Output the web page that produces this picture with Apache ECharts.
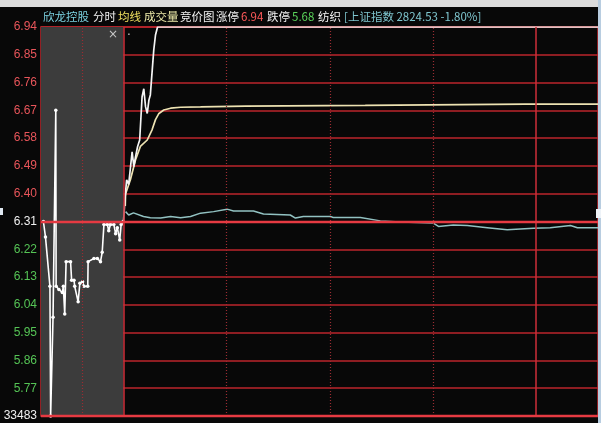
<!DOCTYPE html>
<html><head><meta charset="utf-8">
<script src="https://cdn.jsdelivr.net/npm/echarts@6/dist/echarts.min.js"></script>
<style>html,body{margin:0;padding:0;background:#080808;overflow:hidden}#c{width:601px;height:423px}</style>
</head><body><div id="c"></div>
<script>
// ---- data ----
const yTicks = [5.68, 5.77, 5.86, 5.95, 6.04, 6.13, 6.22, 6.31, 6.40, 6.49, 6.58, 6.67, 6.76, 6.85, 6.94];
const prevClose = 6.31;
const bottomLabel = '33483';
// time unit: minutes from 9:30 (negative = call-auction panel)
const auctionT = [-23.3,-22.7,-21.4,-21.2,-20.5,-19.7,-19.6,-18.8,-17.8,-17.5,-17.1,-16.7,-15.4,-15.1,-14.4,-14.2,-13.2,-12.7,-11.9,-11.5,-10.4,-10.3,-8.6,-7.6,-6.7,-6.2,-5.7,-4.7,-4.3,-3.8,-2.8,-2.3,-1.8,-1.1,-0.7,-0.1];
const auctionP = [6.31,6.26,6.10,5.68,6.00,6.67,6.10,6.09,6.08,6.10,6.01,6.18,6.18,6.12,6.12,6.10,6.05,6.11,6.115,6.10,6.10,6.18,6.19,6.19,6.18,6.21,6.30,6.30,6.28,6.30,6.30,6.27,6.29,6.25,6.30,6.31];
const priceT = [0,0.4,0.9,1.5,2.5,3.0,3.5,4.1,4.7,5.4,5.9,6.4,6.9,7.4,7.8,8.8,9.3,9.9,138];
const priceP = [6.31,6.38,6.445,6.43,6.536,6.488,6.52,6.553,6.574,6.714,6.74,6.682,6.66,6.704,6.72,6.866,6.914,6.94,6.94];
const avgT = [0.5,0.6,2.0,3.5,4.9,6.9,8.3,9.3,10.3,11.7,13.7,16.6,22.4,35.5,70.3,116.9,138];
const avgP = [6.36,6.40,6.445,6.51,6.553,6.574,6.607,6.64,6.66,6.671,6.677,6.68,6.681,6.684,6.686,6.69,6.69];
// Shanghai index overlay, expressed on the price scale
const idxT = [0.6,1.5,2.9,5.8,7.8,10.8,13.7,16.6,19.5,22.4,26.2,30.1,32,37.8,40.7,48.5,50,52.3,60.2,61,68.9,74.7,80.5,90.1,91.6,95.9,100,105.8,111.6,119.2,124.1,130,132,138];
const idxP = [6.342,6.331,6.338,6.326,6.322,6.321,6.326,6.322,6.326,6.337,6.342,6.350,6.344,6.344,6.334,6.331,6.321,6.326,6.326,6.323,6.323,6.312,6.308,6.305,6.294,6.299,6.297,6.290,6.283,6.288,6.290,6.297,6.290,6.290];
const timeSolid = [0, 120];
const timeDotted = [-12, 30, 60, 90];
const xMin = -24, xMax = 138;

const zip = (a, b) => a.map((v, i) => [v, b[i]]);

const chart = echarts.init(document.getElementById('c'), null, {renderer: 'canvas'});
const titleFont = '"Noto Sans CJK SC", sans-serif';
const titleItems = [
  {t: '欣龙控股', x: 43, c: '#7cd3e2'},
  {t: '分时', x: 93, c: '#f2f2f2'},
  {t: '均线', x: 118, c: '#f0e060'},
  {t: '成交量', x: 144, c: '#ece9a8'},
  {t: '竞价图', x: 180, c: '#f2f2f2'},
  {t: '涨停', x: 216, c: '#f2f2f2'},
  {t: '6.94', x: 241, c: '#ff5a5a'},
  {t: '跌停', x: 267, c: '#f2f2f2'},
  {t: '5.68', x: 292, c: '#5ad25a'},
  {t: '纺织', x: 318, c: '#f2f2f2'},
  {t: '[上证指数 2824.53 -1.80%]', x: 344, c: '#7fc6cf'}
];

const option = {
  backgroundColor: '#080808',
  animation: false,
  grid: {left: 41, right: 3, top: 27, bottom: 7, show: true, borderColor: '#c0282e', borderWidth: 1.5, z: 1},
  xAxis: {
    type: 'value', min: xMin, max: xMax, z: 1,
    axisLine: {show: false}, axisTick: {show: false}, axisLabel: {show: false}, splitLine: {show: false}
  },
  yAxis: {
    type: 'value', min: 5.68, max: 6.94, z: 1,
    axisLine: {show: false},
    axisTick: {show: false, customValues: yTicks},
    axisLabel: {
      customValues: yTicks, margin: 4, fontSize: 12, fontFamily: '"Liberation Sans", Arial, sans-serif',
      formatter: function (v) {
        if (Math.abs(v - yTicks[0]) < 1e-6) return '{w|' + bottomLabel + '}';
        const s = Number(v).toFixed(2);
        if (Math.abs(v - prevClose) < 1e-6) return '{w|' + s + '}';
        return (v > prevClose ? '{r|' : '{g|') + s + '}';
      },
      rich: {
        r: {color: '#e8555a', fontSize: 12, fontFamily: '"Liberation Sans", Arial, sans-serif'},
        g: {color: '#55c455', fontSize: 12, fontFamily: '"Liberation Sans", Arial, sans-serif'},
        w: {color: '#f0f0f0', fontSize: 12, fontFamily: '"Liberation Sans", Arial, sans-serif'}
      }
    },
    splitLine: {show: true, lineStyle: {color: '#bb252b', width: 1.6}}
  },
  series: [
    {
      type: 'line', data: [], z: 0, silent: true,
      markArea: {silent: true, itemStyle: {color: '#3c3c3c'}, data: [[{xAxis: xMin}, {xAxis: 0}]]}
    },
    {
      type: 'line', data: [], z: 1, silent: true,
      markLine: {
        silent: true, symbol: 'none', label: {show: false},
        data: [
          ...timeSolid.map(t => ({xAxis: t, lineStyle: {color: '#cc2e38', width: 1.5, type: 'solid'}})),
          ...timeDotted.map(t => ({xAxis: t, lineStyle: {color: '#9a2c32', width: 1.2, type: [1, 2]}})),
          {yAxis: prevClose, lineStyle: {color: '#e63a42', width: 2.4, type: 'solid'}},
          {yAxis: yTicks[0], lineStyle: {color: '#e63a42', width: 2.4, type: 'solid'}}
        ]
      }
    },
    {
      name: '上证指数', type: 'line', z: 2, data: zip(idxT, idxP), showSymbol: false,
      lineStyle: {color: '#92c2c2', width: 1.5}
    },
    {
      name: '均线', type: 'line', z: 3, data: zip(avgT, avgP), showSymbol: false,
      lineStyle: {color: '#ede2b2', width: 1.7}
    },
    {
      name: '竞价', type: 'line', z: 4, data: zip(auctionT, auctionP),
      showSymbol: true, symbol: 'circle', symbolSize: 3.5,
      itemStyle: {color: '#ffffff'}, lineStyle: {color: '#ffffff', width: 1.6}
    },
    {
      name: '分时', type: 'line', z: 4, data: zip(priceT, priceP), showSymbol: false,
      lineStyle: {color: '#f4f4f4', width: 1.7}
    }
  ],
  graphic: [
    {type: 'rect', shape: {x: 0, y: 0, width: 601, height: 7}, style: {fill: '#dcdcdc'}, z: 10},
    {type: 'rect', shape: {x: 598, y: 0, width: 3, height: 423}, style: {fill: '#b8cde0'}, z: 10},
    {type: 'rect', shape: {x: 0, y: 208, width: 3, height: 7}, style: {fill: '#dfe8f2'}, z: 10},
    {type: 'rect', shape: {x: 596, y: 209, width: 5, height: 9}, style: {fill: '#eef3f8'}, z: 10},
    {type: 'text', left: 108, top: 29, style: {text: '×', fill: '#c8c8c8', font: '12px "DejaVu Sans"'}, z: 10},
    {type: 'text', left: 127, top: 30, style: {text: '·', fill: '#c8c8c8', font: '12px "DejaVu Sans"'}, z: 10},
    ...titleItems.map(it => ({
      type: 'text', left: it.x, top: 11, z: 10,
      style: {text: it.t, fill: it.c, font: '11.5px ' + titleFont}
    }))
  ]
};
chart.setOption(option);
</script>
</body></html>
